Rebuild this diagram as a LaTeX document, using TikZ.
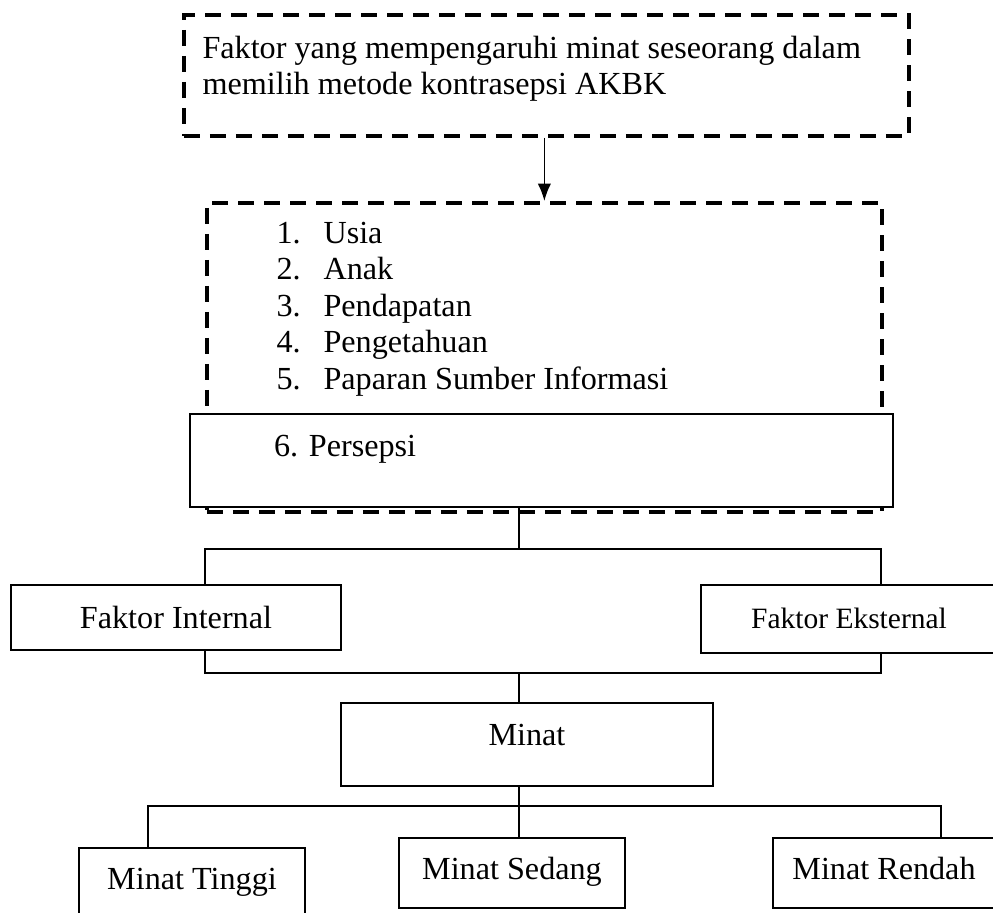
\documentclass[tikz,border=0pt]{standalone}
\usepackage{fontspec}
\setmainfont{Liberation Serif}
\usetikzlibrary{arrows.meta,positioning}

\newdimen\pxu
\pxu=0.373pt

\tikzset{
  dashbox/.style={draw, line width=1.4pt, dash pattern=on 16\pxu off 10\pxu},
  box/.style={draw, line width=0.8pt, fill=white, inner ysep=0pt, inner xsep=0pt},
  link/.style={line width=0.6pt},
}

\begin{document}
\frenchspacing
\begin{tikzpicture}[x=0.373pt, y=-0.373pt, font=\fontsize{12}{13.4}\selectfont]

\useasboundingbox (0,0) rectangle (993,913);
\clip (0,0) rectangle (993,913);

% Dashed box on top
\node[dashbox, anchor=north west, minimum width=725\pxu, minimum height=121\pxu] (judul) at (182,13) {};
\node[anchor=north west, align=left, inner sep=0pt] (judultext) at (202,36)
  {Faktor yang mempengaruhi minat seseorang dalam\\memilih metode kontrasepsi AKBK};

% Dashed box with the list
\node[dashbox, anchor=north west, minimum width=675\pxu, minimum height=309\pxu] (faktor) at (205,201) {};
\foreach \t [count=\i] in {Usia, Anak, Pendapatan, Pengetahuan, Paparan Sumber Informasi}{
  \node[anchor=base west, inner sep=0pt] (num\i) at (276,{243+36.5*(\i-1)}) {\i.};
  \node[anchor=base west, inner sep=0pt] (item\i) at (323,{243+36.5*(\i-1)}) {\t};
}

\draw[link, -{Latex[length=6.5pt,width=5pt]}] (faktor.north |- judul.south) -- (faktor.north);

% Solid boxes
\node[box, align=left, inner xsep=84\pxu, text width=535\pxu, text height=42\pxu, text depth=51\pxu, anchor=base west] (persepsi) at (189,456) {6. Persepsi};

\node[box, anchor=base, minimum width=330\pxu, text height=43\pxu, text depth=22\pxu] (internal) at (176,628) {Faktor Internal};
\node[box, anchor=base, minimum width=296\pxu, text height=43\pxu, text depth=25\pxu, font=\fontsize{11}{13}\selectfont] (eksternal) at (849,628) {Faktor Eksternal};

\node[box, anchor=base, minimum width=372\pxu, text height=42\pxu, text depth=41\pxu] (minat) at (527,745) {Minat};

\node[box, anchor=base, minimum width=226\pxu, text height=41\pxu, text depth=60\pxu] (tinggi) at (192,889) {Minat Tinggi};
\node[box, anchor=base, minimum width=226\pxu, text height=41\pxu, text depth=29\pxu] (sedang) at (512,879) {Minat Sedang};
\node[box, anchor=base, minimum width=222\pxu, text height=41\pxu, text depth=29\pxu] (rendah) at (884,879) {Minat Rendah};

% Connectors
\coordinate (split) at (519,549);
\coordinate (splitL) at (205,549);
\coordinate (splitR) at (881,549);
\coordinate (join) at (519,673);
\coordinate (joinL) at (205,673);
\coordinate (joinR) at (881,673);
\coordinate (tree) at (519,806);
\coordinate (treeL) at (148,806);
\coordinate (treeR) at (941,806);

\draw[link] (split |- persepsi.south) -- (split);
\draw[link] (splitL |- internal.north) -- (splitL) -- (splitR) -- (splitR |- eksternal.north);
\draw[link] (joinL |- internal.south) -- (joinL) -- (joinR) -- (joinR |- eksternal.south);
\draw[link] (join) -- (join |- minat.north);
\draw[link] (tree |- minat.south) -- (tree);
\draw[link] (treeL |- tinggi.north) -- (treeL) -- (treeR) -- (treeR |- rendah.north);
\draw[link] (tree) -- (tree |- sedang.north);

\end{tikzpicture}
\end{document}
